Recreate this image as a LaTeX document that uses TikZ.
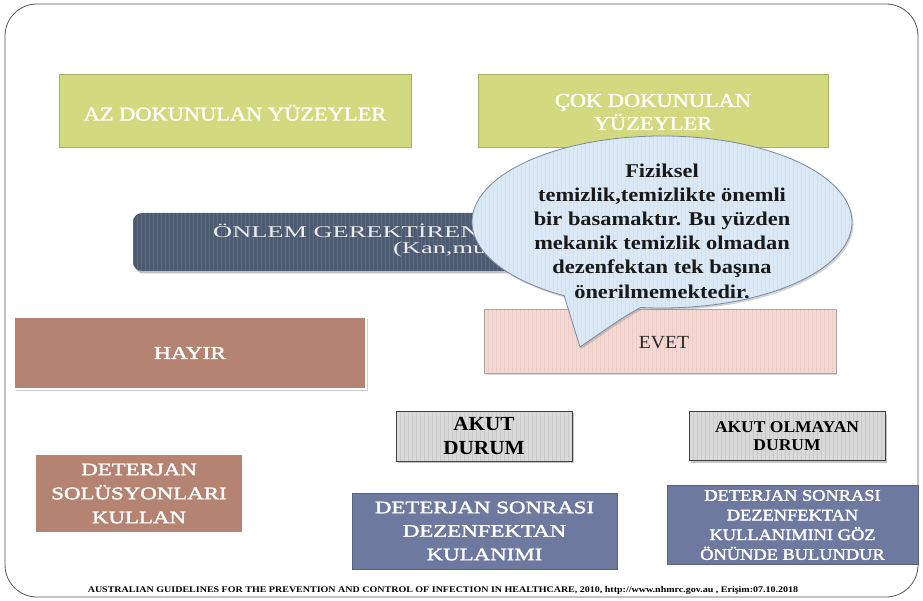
\documentclass[tikz,border=0pt]{standalone}
\usepackage{fontspec}
\setmainfont{Liberation Serif}
\newfontfamily\widerfont[FakeStretch=1.6]{Liberation Serif}
\newfontfamily\widefont[FakeStretch=1.3]{Liberation Serif}
\newfontfamily\midfont[FakeStretch=1.15]{Liberation Serif}
\newfontfamily\narrowfont[FakeStretch=1.06]{Liberation Serif}
\usetikzlibrary{shadows}
\usetikzlibrary{calc}
\definecolor{greenfill}{RGB}{210,217,126}
\definecolor{greenline}{RGB}{168,174,104}
\definecolor{slatefill}{RGB}{76,91,114}
\definecolor{brownfill}{RGB}{181,131,113}
\definecolor{pinkfill}{RGB}{246,216,210}
\definecolor{grayfill}{RGB}{217,217,217}
\definecolor{bluefill}{RGB}{110,121,160}
\definecolor{bubblefill}{RGB}{219,232,246}
\definecolor{bubbleline}{RGB}{122,136,160}
\definecolor{framegray}{RGB}{85,85,85}
\newcommand{\fs}[2]{\fontsize{#1}{#2}\selectfont}

\begin{document}
\begin{tikzpicture}[x=1pt,y=-1pt,
    box/.style={rectangle,inner sep=0pt,align=center},
    greenbox/.style={box,fill=greenfill,draw=greenline,line width=0.6pt},
    brownbox/.style={box,fill=brownfill},
    bluebox/.style={box,fill=bluefill,draw=bluefill!80!black,line width=0.4pt},
    graybox/.style={box,fill=grayfill,draw=black!75,line width=0.8pt,
      drop shadow={shadow xshift=1.5pt,shadow yshift=-2pt,opacity=0.45},stripes=grayfill!93!black},
    outlined/.style={text=white,
      execute at begin node={\special{pdf:literal direct 2 Tr 0.35 w 0.3 G}},
      execute at end node={\special{pdf:literal direct 0 Tr}}},
    stripes/.style={path picture={\foreach \s in {0,4,...,600}
      \draw[#1,line width=0.6pt] ([xshift=\s pt]path picture bounding box.south west)
        -- ([xshift=\s pt]path picture bounding box.north west);}}]
  \useasboundingbox (0,0) rectangle (923,601);
  % frame
  \draw[framegray,line width=0.8pt,rounded corners=32pt] (5,4) rectangle (918,597);

  % top row
  \node[greenbox,outlined,minimum width=352,minimum height=73,text height=20pt,text depth=0pt,
    font=\midfont\fs{19.5}{24}] (az) at (235,110.5) {AZ DOKUNULAN YÜZEYLER};
  \node[greenbox,minimum width=350,minimum height=73] (cok) at (653,110.5) {};
  \node[box,outlined,font=\midfont\fs{19.5}{23}] (coktxt) at (653,112) {ÇOK DOKUNULAN\\YÜZEYLER};

  % question bar
  \node[box,fill=slatefill,rounded corners=9pt,minimum width=470,minimum height=58,
    drop shadow={shadow xshift=1.5pt,shadow yshift=-2.5pt,opacity=0.5},stripes=white!10!slatefill]
    (onlem) at (368,242) {};
  \node[anchor=west,inner sep=0pt,text=white!92!black,font=\widerfont\fs{16.5}{20}]
    (onlemA) at (213,231) {ÖNLEM GEREKTİREN B};
  \node[anchor=west,inner sep=0pt,text=white!92!black,font=\widerfont\fs{16.5}{20}]
    (onlemB) at (393,250) {(Kan,mu};

  % answers
  \node[brownbox,outlined,draw=white,line width=2pt,minimum width=352,minimum height=72,
    drop shadow={shadow xshift=1.5pt,shadow yshift=-2pt,opacity=0.4},font=\widefont\fs{18}{22}]
    (hayir) at (190,353) {HAYIR};
  \node[box,fill=pinkfill,draw=black!35,line width=0.5pt,minimum width=352,minimum height=64,
    drop shadow={shadow xshift=1pt,shadow yshift=-1.5pt,opacity=0.3},stripes=pinkfill!95!black]
    (evet) at (660,341) {};
  \node[inner sep=0pt,font=\narrowfont\fs{18.5}{22},text=black!85] (evettxt) at (664,343) {EVET};

  % speech bubble
  \draw[fill=bubblefill,draw=bubbleline,line width=0.8pt,stripes=bubblefill!97!black,
    drop shadow={shadow xshift=1.5pt,shadow yshift=-2pt,opacity=0.35}]
    (580,347) -- ($(662,222)+(121:190 and 86)$) coordinate (tailL)
    arc[start angle=121,end angle=456.5,x radius=190,y radius=86] coordinate (tailR)
    .. controls (622,318) .. (580,347) -- cycle;
  \coordinate (tip) at (580,347);
  \node[align=center,inner sep=0pt,font=\midfont\bfseries\fs{19.5}{24.2},text=black!90]
    (bubble) at (662,231) {Fiziksel\\temizlik,temizlikte önemli\\bir basamaktır. Bu yüzden\\
    mekanik temizlik olmadan\\dezenfektan tek başına\\önerilmemektedir.};

  % cases
  \node[graybox,minimum width=176,minimum height=50,font=\narrowfont\bfseries\fs{20}{24}]
    (akut) at (484,436) {AKUT\\DURUM};
  \node[graybox,minimum width=196,minimum height=49,font=\narrowfont\bfseries\fs{16.5}{17.5}]
    (akutdegil) at (787,436) {AKUT OLMAYAN\\DURUM};

  % actions
  \node[brownbox,outlined,minimum width=206,minimum height=77,font=\widefont\fs{17.6}{24}]
    (deterjan) at (139,493.5) {DETERJAN\\SOLÜSYONLARI\\KULLAN};
  \node[bluebox,outlined,minimum width=265,minimum height=76,font=\widefont\fs{17.6}{23.5}]
    (dezenfektan) at (484.5,531) {DETERJAN SONRASI\\DEZENFEKTAN\\KULANIMI};
  \node[bluebox,outlined,minimum width=251,minimum height=79,font=\midfont\fs{16}{19.7}]
    (gozonunde) at (792.5,525) {DETERJAN SONRASI\\DEZENFEKTAN\\KULLANIMINI GÖZ\\ÖNÜNDE BULUNDUR};

  % source
  \node[inner sep=0pt,font=\midfont\bfseries\fs{8.7}{10}] (kaynak) at (443,590)
    {AUSTRALIAN GUIDELINES FOR THE PREVENTION AND CONTROL OF INFECTION IN HEALTHCARE, 2010, http://www.nhmrc.gov.au , Erişim:07.10.2018};
\end{tikzpicture}
\end{document}
